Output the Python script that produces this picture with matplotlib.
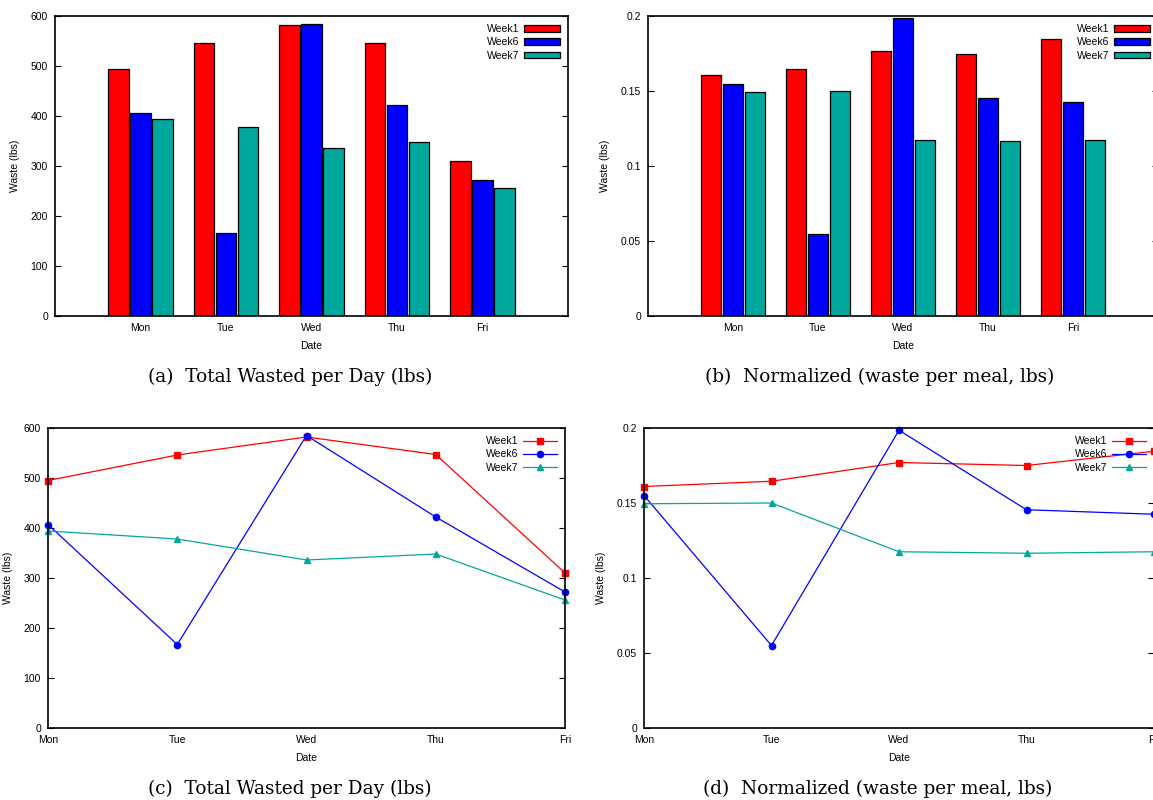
import numpy as np
import matplotlib.pyplot as plt
from matplotlib.patches import Patch
from matplotlib.lines import Line2D

days = ["Mon", "Tue", "Wed", "Thu", "Fri"]
weeks = ["Week1", "Week6", "Week7"]

# total waste per day (lbs)
total_w1 = [495, 546, 582, 547, 310]
total_w6 = [407, 167, 585, 422, 272]
total_w7 = [394, 378, 336, 348, 256]

# normalized waste per meal (lbs)
norm_w1 = [0.161, 0.1645, 0.177, 0.175, 0.1845]
norm_w6 = [0.155, 0.055, 0.1985, 0.1455, 0.1425]
norm_w7 = [0.1495, 0.150, 0.1175, 0.1165, 0.1175]

colors = ["#ff0000", "#0000ff", "#00a89e"]
markers = ["s", "o", "^"]

plt.rcParams['font.family'] = ['Liberation Sans', 'DejaVu Sans']
W, H = 1153, 800
fig = plt.figure(figsize=(W / 100, H / 100), dpi=100)


def box(l, t, r, b):
    return [l / W, 1 - b / H, (r - l) / W, (b - t) / H]


def style_axes(ax, ymax, yticks, ylabels):
    ax.set_ylim(0, ymax)
    ax.set_yticks(yticks)
    ax.set_yticklabels(ylabels)
    ax.tick_params(axis='y', direction='in', right=True, left=True, length=4,
                   labelsize=7.5, pad=5, width=0.8)
    ax.tick_params(axis='x', length=0, labelsize=7.5, pad=5)
    ax.set_xlabel("Date", fontsize=7.5, labelpad=6)
    ax.set_ylabel("Waste (lbs)", fontsize=7.5, labelpad=8)
    for s in ax.spines.values():
        s.set_linewidth(1.2)


def bar_panel(rect, series, ymax, yticks, ylabels):
    ax = fig.add_axes(rect)
    x = np.arange(1, len(days) + 1)
    offsets = [-0.26, 0.0, 0.26]
    for vals, c, off in zip(series, colors, offsets):
        ax.bar(x + off, vals, width=0.24, color=c, edgecolor='black',
               linewidth=0.9)
    ax.set_xlim(0, 6)
    ax.set_xticks(x)
    ax.set_xticklabels(days)
    style_axes(ax, ymax, yticks, ylabels)
    handles = [Patch(facecolor=c, edgecolor='black', linewidth=0.9) for c in colors]
    ax.legend(handles, weeks, loc='upper right', frameon=False, fontsize=7.5,
              markerfirst=False, handlelength=3.4, handleheight=0.6,
              labelspacing=0.3, handletextpad=0.5, borderaxespad=0.4)
    return ax


def line_panel(rect, series, ymax, yticks, ylabels):
    ax = fig.add_axes(rect)
    x = np.arange(len(days))
    for vals, c, m in zip(series, colors, markers):
        ax.plot(x, vals, color=c, marker=m, markersize=4.5, linewidth=0.9,
                clip_on=False)
    ax.set_xlim(0, 4)
    ax.set_xticks(x)
    ax.set_xticklabels(days)
    style_axes(ax, ymax, yticks, ylabels)
    handles = [Line2D([], [], color=c, marker=m, markersize=4.5, linewidth=0.9)
               for c, m in zip(colors, markers)]
    ax.legend(handles, weeks, loc='upper right', frameon=False, fontsize=7.5,
              markerfirst=False, handlelength=3.2, labelspacing=0.3,
              handletextpad=0.5, borderaxespad=0.4)
    return ax


tot_ticks = [0, 100, 200, 300, 400, 500, 600]
tot_labels = [str(t) for t in tot_ticks]
norm_ticks = [0, 0.05, 0.1, 0.15, 0.2]
norm_labels = ["0", "0.05", "0.1", "0.15", "0.2"]

bar_panel(box(55, 16, 568, 316), [total_w1, total_w6, total_w7], 600,
          tot_ticks, tot_labels)
bar_panel(box(648, 16, 1158, 316), [norm_w1, norm_w6, norm_w7], 0.2,
          norm_ticks, norm_labels)
line_panel(box(48, 428, 565, 728), [total_w1, total_w6, total_w7], 600,
           tot_ticks, tot_labels)
line_panel(box(644, 428, 1154, 728), [norm_w1, norm_w6, norm_w7], 0.2,
           norm_ticks, norm_labels)

captions = [
    (290, 377, "(a)  Total Wasted per Day (lbs)"),
    (880, 377, "(b)  Normalized (waste per meal, lbs)"),
    (290, 789, "(c)  Total Wasted per Day (lbs)"),
    (878, 789, "(d)  Normalized (waste per meal, lbs)"),
]
for cx, cy, txt in captions:
    fig.text(cx / W, 1 - cy / H, txt, ha='center', va='center', fontsize=13.3,
             family=['DejaVu Serif', 'Liberation Serif'])

fig.savefig("out.png", dpi=100)
